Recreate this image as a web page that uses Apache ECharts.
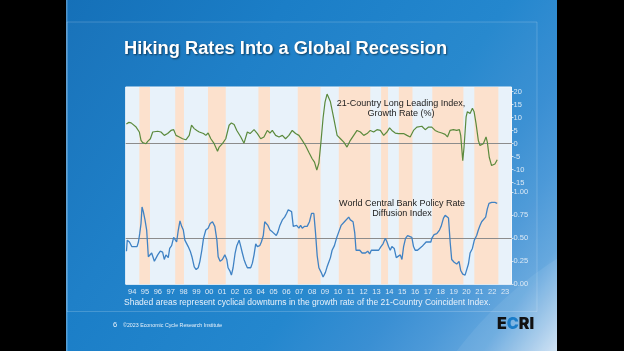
<!DOCTYPE html>
<html>
<head>
<meta charset="utf-8">
<script src="https://cdn.jsdelivr.net/npm/echarts@6/dist/echarts.min.js"></script>
<style>
html,body{margin:0;padding:0;background:#000;}
#chart{width:624px;height:351px;}
</style>
</head>
<body>
<div id="chart"></div>
<script>
// ---- data ----
const yearLabels = ['94','95','96','97','98','99','00','01','02','03','04','05','06','07','08','09','10','11','12','13','14','15','16','17','18','19','20','21','22','23'];

// cyclical downturn bands (shaded peach), in fractional years
const bandStarts = [1995.06, 1997.85, 2000.40, 2004.32, 2007.38, 2010.57, 2013.86, 2015.24, 2017.84, 2021.11];
const bandEnds   = [1995.89, 1998.53, 2001.78, 2005.22, 2009.15, 2013.02, 2014.40, 2016.30, 2020.26, 2022.98];

// 21-Country Long Leading Index, growth rate (%)
const leadingYears = [1994.05,1994.25,1994.42,1994.55,1994.81,1995.06,1995.19,1995.32,1995.45,1995.58,1995.71,1995.92,1996.10,1996.23,1996.49,1996.74,1997.00,1997.26,1997.52,1997.73,1997.91,1998.17,1998.42,1998.68,1998.94,1999.12,1999.33,1999.53,1999.72,1999.84,2000.05,2000.23,2000.41,2000.62,2000.88,2001.14,2001.27,2001.52,2001.78,2002.04,2002.22,2002.43,2002.64,2002.95,2003.20,2003.46,2003.67,2003.98,2004.24,2004.50,2004.75,2005.01,2005.22,2005.40,2005.66,2005.92,2006.18,2006.43,2006.69,2006.95,2007.21,2007.47,2007.73,2007.98,2008.24,2008.50,2008.68,2008.86,2009.02,2009.18,2009.35,2009.50,2009.66,2009.79,2009.92,2010.18,2010.44,2010.70,2010.96,2011.21,2011.47,2011.73,2011.99,2012.25,2012.51,2012.77,2013.02,2013.28,2013.54,2013.80,2014.06,2014.32,2014.52,2014.70,2014.96,2015.22,2015.61,2015.87,2016.12,2016.38,2016.64,2017.03,2017.29,2017.55,2017.80,2018.06,2018.32,2018.58,2018.84,2019.02,2019.22,2019.48,2019.74,2019.95,2020.05,2020.21,2020.31,2020.47,2020.57,2020.78,2020.96,2021.09,2021.24,2021.42,2021.55,2021.81,2022.02,2022.12,2022.27,2022.45,2022.71,2022.89];
const leadingValues = [7.6,8.2,8.0,7.4,6.4,4.5,1.3,0.4,0.8,0.0,0.9,1.9,4.5,5.1,4.8,4.5,3.2,3.9,5.1,5.4,3.2,2.6,1.9,1.5,3.2,7.1,5.8,5.1,4.5,5.1,3.9,3.2,4.1,1.9,0.0,-2.9,-1.3,0.0,1.9,7.1,8.0,7.4,5.1,2.6,0.2,4.5,3.9,5.4,3.9,1.9,2.6,5.1,4.1,5.1,3.2,2.6,3.2,1.9,3.2,5.1,3.9,3.2,1.3,-0.7,-3.3,-5.8,-7.1,-10.1,-7.5,0.5,10.0,16.0,19.1,18.5,16.1,9.7,3.2,1.9,0.6,-1.3,1.3,3.2,5.1,4.5,3.2,3.9,5.1,4.5,5.4,5.1,3.2,4.5,6.1,5.1,4.1,3.9,3.9,3.2,2.6,5.1,6.4,6.7,5.4,6.4,6.4,5.1,4.5,4.1,3.6,2.6,5.1,5.4,5.1,5.4,3.2,-6.5,-1.3,10.3,12.3,11.6,13.6,12.3,7.8,1.3,-0.7,0.0,2.6,0.6,-5.2,-8.4,-7.8,-6.2];

// World Central Bank Policy Rate Diffusion Index
const diffusionYears = [1994.06,1994.12,1994.29,1994.47,1994.68,1994.88,1994.99,1995.09,1995.19,1995.27,1995.37,1995.50,1995.63,1995.76,1995.89,1996.02,1996.23,1996.36,1996.49,1996.69,1996.87,1997.00,1997.13,1997.31,1997.42,1997.57,1997.73,1997.86,1997.96,1998.09,1998.22,1998.35,1998.48,1998.60,1998.73,1998.86,1999.02,1999.15,1999.33,1999.48,1999.64,1999.77,1999.92,2000.05,2000.23,2000.41,2000.57,2000.75,2000.93,2001.09,2001.19,2001.34,2001.52,2001.71,2001.86,2001.96,2002.12,2002.22,2002.35,2002.51,2002.64,2002.82,2002.95,2003.07,2003.20,2003.33,2003.46,2003.59,2003.72,2003.85,2003.98,2004.11,2004.24,2004.42,2004.55,2004.70,2004.81,2004.94,2005.06,2005.22,2005.40,2005.53,2005.71,2005.84,2005.99,2006.18,2006.36,2006.51,2006.64,2006.77,2006.90,2007.03,2007.16,2007.29,2007.47,2007.60,2007.73,2007.91,2008.11,2008.29,2008.45,2008.63,2008.76,2008.89,2009.02,2009.20,2009.35,2009.53,2009.66,2009.79,2009.92,2010.05,2010.23,2010.39,2010.57,2010.75,2010.88,2011.01,2011.16,2011.34,2011.47,2011.68,2011.81,2011.91,2012.04,2012.20,2012.38,2012.51,2012.64,2012.82,2012.97,2013.10,2013.23,2013.36,2013.49,2013.67,2013.85,2014.01,2014.19,2014.32,2014.44,2014.57,2014.70,2014.88,2015.04,2015.17,2015.35,2015.48,2015.61,2015.76,2015.92,2016.07,2016.25,2016.38,2016.51,2016.69,2016.85,2017.03,2017.16,2017.36,2017.55,2017.73,2017.80,2017.98,2018.19,2018.40,2018.53,2018.71,2018.84,2018.97,2019.10,2019.23,2019.35,2019.54,2019.74,2019.92,2020.05,2020.21,2020.39,2020.52,2020.65,2020.78,2020.96,2021.11,2021.29,2021.42,2021.55,2021.68,2021.81,2021.99,2022.12,2022.25,2022.46,2022.71,2022.89];
const diffusionValues = [0.36,0.48,0.46,0.41,0.41,0.41,0.46,0.55,0.66,0.84,0.79,0.70,0.59,0.30,0.32,0.34,0.25,0.27,0.32,0.36,0.35,0.27,0.32,0.29,0.39,0.42,0.51,0.51,0.46,0.59,0.69,0.63,0.59,0.48,0.46,0.41,0.36,0.30,0.19,0.16,0.18,0.25,0.37,0.50,0.59,0.61,0.66,0.68,0.63,0.48,0.30,0.25,0.27,0.32,0.27,0.18,0.14,0.10,0.18,0.34,0.42,0.48,0.41,0.34,0.27,0.22,0.18,0.19,0.18,0.23,0.32,0.44,0.41,0.42,0.46,0.53,0.68,0.66,0.64,0.59,0.57,0.59,0.53,0.57,0.64,0.70,0.73,0.77,0.81,0.82,0.79,0.63,0.61,0.64,0.61,0.64,0.61,0.63,0.63,0.68,0.77,0.77,0.56,0.31,0.18,0.13,0.08,0.13,0.19,0.24,0.29,0.37,0.42,0.50,0.57,0.64,0.66,0.68,0.70,0.73,0.70,0.68,0.56,0.37,0.36,0.37,0.34,0.36,0.34,0.36,0.33,0.37,0.39,0.37,0.36,0.37,0.41,0.44,0.50,0.46,0.41,0.37,0.41,0.39,0.29,0.27,0.32,0.27,0.41,0.50,0.53,0.52,0.51,0.41,0.37,0.37,0.39,0.41,0.42,0.46,0.46,0.46,0.50,0.54,0.55,0.59,0.63,0.72,0.75,0.77,0.72,0.46,0.27,0.24,0.22,0.25,0.15,0.11,0.10,0.11,0.22,0.34,0.39,0.48,0.53,0.59,0.64,0.68,0.70,0.73,0.82,0.88,0.89,0.89,0.88];

const zip = (xs, ys) => xs.map((x, i) => [x, ys[i]]);

// ---- layout ----
const PL = 125.7, PW = 385.8;   // plot left/width
const FONT = '"Liberation Sans", Arial, sans-serif';
const labelColor = '#dce9f5';

const chart = echarts.init(document.getElementById('chart'), null, {renderer: 'canvas'});

const option = {
  animation: false,
  backgroundColor: '#000',
  textStyle: {fontFamily: FONT},
  grid: [
    {left: PL, width: PW, top: 87, height: 197.3, show: true, backgroundColor: '#e8f2fa', borderColor: '#f4f8fc', borderWidth: 1, z: 1},
    {left: PL, width: PW, top: 91.7, height: 91},
    {left: PL, width: PW, top: 192.3, height: 92}
  ],
  xAxis: [
    {gridIndex: 0, type: 'value', min: 1994, max: 2024,
     axisLine: {show: false}, axisTick: {show: false}, splitLine: {show: false},
     axisLabel: {
       customValues: yearLabels.map((l, i) => 1994.5 + i),
       formatter: v => yearLabels[Math.floor(v) - 1994] || '',
       color: labelColor, fontSize: 7.5, margin: 4, fontFamily: FONT
     }},
    {gridIndex: 1, type: 'value', min: 1994, max: 2024, show: false},
    {gridIndex: 2, type: 'value', min: 1994, max: 2024, show: false}
  ],
  yAxis: [
    {gridIndex: 0, type: 'value', min: 0, max: 1, show: false},
    {gridIndex: 1, type: 'value', min: -15, max: 20, interval: 5, position: 'right',
     axisLine: {show: false}, splitLine: {show: false},
     axisTick: {show: true, length: 2, lineStyle: {color: '#cfe0f0'}},
     axisLabel: {color: labelColor, fontSize: 7.5, margin: 2, fontFamily: FONT}},
    {gridIndex: 2, type: 'value', min: 0, max: 1, interval: 0.25, position: 'right',
     axisLine: {show: false}, splitLine: {show: false},
     axisTick: {show: true, length: 2, lineStyle: {color: '#cfe0f0'}},
     axisLabel: {color: labelColor, fontSize: 7.5, margin: 2, fontFamily: FONT,
                 formatter: v => v.toFixed(2)}}
  ],
  series: [
    {type: 'line', xAxisIndex: 0, yAxisIndex: 0, data: [[1994, 0.5], [2024, 0.5]],
     showSymbol: false, lineStyle: {width: 0, opacity: 0}, silent: true, z: 1,
     markArea: {silent: true, itemStyle: {color: '#fce1cd'},
       data: bandStarts.map((s, i) => [{xAxis: s}, {xAxis: bandEnds[i]}])}},
    {type: 'line', xAxisIndex: 1, yAxisIndex: 1, data: zip(leadingYears, leadingValues),
     showSymbol: false, z: 5,
     lineStyle: {color: '#5b8a3d', width: 1.2}, itemStyle: {color: '#5b8a3d'},
     markLine: {silent: true, symbol: 'none', label: {show: false},
       lineStyle: {color: '#8c8c8c', width: 1, type: 'solid'}, data: [{yAxis: 0}]}},
    {type: 'line', xAxisIndex: 2, yAxisIndex: 2, data: zip(diffusionYears, diffusionValues),
     showSymbol: false, z: 5,
     lineStyle: {color: '#3f82c4', width: 1.3}, itemStyle: {color: '#3f82c4'},
     markLine: {silent: true, symbol: 'none', label: {show: false},
       lineStyle: {color: '#8c8c8c', width: 1, type: 'solid'}, data: [{yAxis: 0.5}]}}
  ],
  graphic: [
    // slide background
    {type: 'rect', z: -10, silent: true, shape: {x: 66, y: 0, width: 491, height: 351},
     style: {fill: new echarts.graphic.LinearGradient(0, 0, 1, 1, [
       {offset: 0, color: '#1570b8'}, {offset: 0.3, color: '#1b7ec7'},
       {offset: 0.6, color: '#2487ce'}, {offset: 0.74, color: '#3a8fd3'},
       {offset: 0.82, color: '#4c99d8'}, {offset: 0.9, color: '#66a8de'},
       {offset: 0.96, color: '#a3c9ea'}, {offset: 1, color: '#cde1f3'}])}},
    {type: 'circle', z: -9, silent: true, shape: {cx: 760, cy: 580, r: 380},
     style: {fill: 'rgba(255,255,255,0.07)'}},
    {type: 'rect', z: -7, silent: true, shape: {x: 557, y: 0, width: 67, height: 351},
     style: {fill: '#000000'}},
    {type: 'rect', z: -8, silent: true, shape: {x: 67, y: 22, width: 470, height: 289.5},
     style: {fill: 'rgba(255,255,255,0.02)', stroke: 'rgba(255,255,255,0.18)', lineWidth: 1}},
    {type: 'rect', z: -8, silent: true, shape: {x: 66, y: 0, width: 1.5, height: 351},
     style: {fill: 'rgba(255,255,255,0.25)'}},
    // title
    {type: 'text', z: 100, left: 124, top: 40,
     style: {text: 'Hiking Rates Into a Global Recession', fill: '#ffffff',
       font: 'bold 18.3px ' + FONT,
       textShadowColor: 'rgba(0,0,0,0.55)', textShadowBlur: 2, textShadowOffsetX: 1, textShadowOffsetY: 1}},
    // annotations
    {type: 'text', z: 100, x: 401, y: 108.5,
     style: {text: '21-Country Long Leading Index,\nGrowth Rate (%)', fill: '#222222',
       font: '9px ' + FONT, align: 'center', verticalAlign: 'middle', lineHeight: 10}},
    {type: 'text', z: 100, x: 402, y: 208.5,
     style: {text: 'World Central Bank Policy Rate\nDiffusion Index', fill: '#222222',
       font: '9px ' + FONT, align: 'center', verticalAlign: 'middle', lineHeight: 10.5}},
    // footnote
    {type: 'text', z: 100, x: 124, y: 303,
     style: {text: 'Shaded areas represent cyclical downturns in the growth rate of the 21-Country Coincident Index.',
       fill: '#e8f1fa', font: '8.5px ' + FONT, verticalAlign: 'middle'}},
    // footer
    {type: 'text', z: 100, x: 113, y: 325,
     style: {text: '6', fill: '#e8f1fa', font: '7.5px ' + FONT, verticalAlign: 'middle'}},
    {type: 'text', z: 100, x: 123, y: 325.7,
     style: {text: '\u00a92023 Economic Cycle Research Institute', fill: '#e8f1fa', font: '5.3px ' + FONT, verticalAlign: 'middle'}},
    {type: 'text', z: 100, x: 497, y: 324.5,
     style: {text: '{k|E}{b|C}{k|RI}', verticalAlign: 'middle',
       rich: {k: {fill: '#111111', font: '900 16px Inter, ' + FONT},
              b: {fill: '#1a7cc8', font: '900 16px Inter, ' + FONT}}}}
  ]
};
chart.setOption(option);
</script>
</body>
</html>
